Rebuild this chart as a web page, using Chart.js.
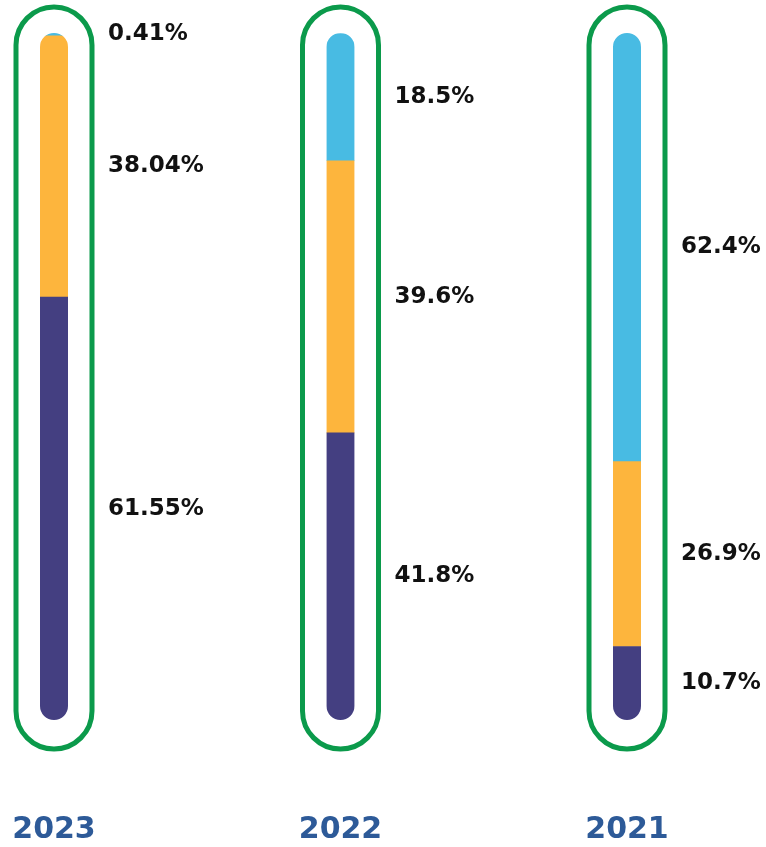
<!DOCTYPE html>
<html>
<head>
<meta charset="utf-8">
<script src="https://cdn.jsdelivr.net/npm/chart.js@4"></script>
<style>
  html, body { margin: 0; padding: 0; background: #fff; }
  canvas { display: block; }
</style>
</head>
<body>
<canvas id="myChart" width="766" height="847"></canvas>
<script>
// data, columns left to right
const years = ["2023", "2022", "2021"];
const purpleVals = [61.55, 41.8, 10.7];
const orangeVals = [38.04, 39.6, 26.9];
const blueVals = [0.41, 18.5, 62.4];

const GREEN = "#0b9a4b";
const BAR_W = 28;

// rounded outline around each bar + clip bars into a capsule
const tubePlugin = {
  id: "tubes",
  beforeDatasetsDraw(chart) {
    const ctx = chart.ctx;
    const x = chart.scales.x, y = chart.scales.y;
    const top = y.getPixelForValue(100), bot = y.getPixelForValue(0);

    ctx.save();
    ctx.strokeStyle = GREEN;
    ctx.lineWidth = 5;
    years.forEach((yr, i) => {
      const cx = x.getPixelForValue(i);
      const r = 38, t = top - 26 + r, b = bot + 29 - r;
      ctx.beginPath();
      ctx.moveTo(cx - r, b);
      ctx.lineTo(cx - r, t);
      ctx.arc(cx, t, r, Math.PI, 0);
      ctx.lineTo(cx + r, b);
      ctx.arc(cx, b, r, 0, Math.PI);
      ctx.closePath();
      ctx.stroke();
    });

    // year labels under each tube
    ctx.font = "bold 30px 'DejaVu Sans'";
    ctx.fillStyle = "#2d5a98";
    ctx.textAlign = "center";
    ctx.textBaseline = "alphabetic";
    years.forEach((yr, i) => {
      ctx.fillText(yr, x.getPixelForValue(i), 838);
    });
    ctx.restore();

    ctx.save();
    ctx.beginPath();
    years.forEach((yr, i) => {
      const cx = x.getPixelForValue(i);
      const r = BAR_W / 2;
      ctx.moveTo(cx - r, bot - r);
      ctx.lineTo(cx - r, top + r);
      ctx.arc(cx, top + r, r, Math.PI, 0);
      ctx.lineTo(cx + r, bot - r);
      ctx.arc(cx, bot - r, r, 0, Math.PI);
      ctx.closePath();
    });
    ctx.clip();
  },
  afterDatasetsDraw(chart) {
    const ctx = chart.ctx;
    ctx.restore();

    // value labels at middle of each segment
    ctx.save();
    ctx.font = "bold 23px 'DejaVu Sans'";
    ctx.fillStyle = "#111";
    ctx.textAlign = "left";
    ctx.textBaseline = "middle";
    chart.data.datasets.forEach((ds, d) => {
      chart.getDatasetMeta(d).data.forEach((el, i) => {
        const mid = (el.y + el.base) / 2;
        ctx.fillText(ds.data[i] + "%", el.x + 54, mid);
      });
    });
    ctx.restore();
  }
};

new Chart("myChart", {
  type: "bar",
  data: {
    labels: years,
    datasets: [
      { data: purpleVals, backgroundColor: "#443f81" },
      { data: orangeVals, backgroundColor: "#fdb53d" },
      { data: blueVals, backgroundColor: "#48bbe3" }
    ]
  },
  options: {
    responsive: false,
    animation: false,
    layout: { padding: { left: 54, right: 139, top: 33, bottom: 127 } },
    datasets: { bar: { barThickness: BAR_W, clip: false, borderWidth: 0 } },
    plugins: { legend: { display: false }, tooltip: { enabled: false } },
    scales: {
      x: { stacked: true, offset: false, display: false },
      y: { stacked: true, display: false, min: 0, max: 100 }
    }
  },
  plugins: [tubePlugin]
});
</script>
</body>
</html>
